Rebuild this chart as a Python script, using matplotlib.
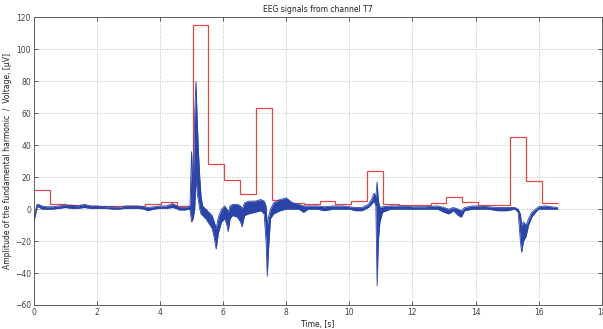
import numpy as np
import matplotlib
matplotlib.use("Agg")
import matplotlib.pyplot as plt

# Red step signal: amplitude of fundamental harmonic per window
step_end_time = 16.6
step_values = [12, 3.1, 2.3, 2.2, 2.0, 2.0, 2.2, 3.1, 4.2, 2.1,
               115, 28, 18.5, 9.4, 63, 6, 3.8, 3.5, 4.8, 3.1,
               5.2, 24, 3.5, 2.5, 2.5, 4.0, 7.7, 4.2, 2.5, 2.5,
               45, 17.5, 4.0]

# Blue EEG trace: times with lower / upper envelope
eeg_t = [0.00, 0.05, 0.10, 0.15, 0.25, 0.40, 0.60, 0.80, 1.00, 1.20, 1.40, 1.60,
         1.80, 2.00, 2.30, 2.50, 2.70, 2.90, 3.10, 3.30, 3.50, 3.60, 3.80, 4.00,
         4.20, 4.40, 4.50, 4.60, 4.80, 4.95, 5.00, 5.05, 5.10, 5.14, 5.18, 5.22,
         5.26, 5.30, 5.35, 5.45, 5.55, 5.65, 5.72, 5.78, 5.85, 5.95, 6.05, 6.12,
         6.16, 6.22, 6.30, 6.45, 6.55, 6.60, 6.68, 6.80, 7.00, 7.20, 7.30, 7.36,
         7.40, 7.44, 7.50, 7.60, 7.80, 8.00, 8.20, 8.40, 8.55, 8.70, 9.00, 9.20,
         9.50, 9.80, 10.00, 10.20, 10.40, 10.60, 10.70, 10.78, 10.84, 10.88, 10.92, 10.97,
         11.05, 11.30, 11.60, 12.00, 12.40, 12.80, 13.00, 13.15, 13.30, 13.45, 13.55, 13.65,
         13.90, 14.10, 14.40, 14.70, 15.00, 15.25, 15.35, 15.42, 15.46, 15.52, 15.60, 15.68,
         15.78, 15.90, 16.00, 16.20, 16.40, 16.60]
eeg_lo = [-8, -4, 1, 1.5, 0, 0, 0, 0.5, 1, 0.5, 0.5, 1,
          0.5, 0.5, 0.5, 0, 0, 0.5, 0.5, 0.5, 0, -1, 0, 0.5,
          0.5, 1, 0.5, -0.5, -0.5, 0, -8, -6, 0, 20, 10, 5,
          0, -3, -4, -6, -9, -12, -18, -25, -15, -8, -6, -10,
          -14, -6, -4, -5, -8, -11, -4, -3, -2, -1, -3, -20,
          -42, -25, -6, -3, -1, 0, 0, 0, -2, 0, 0, -1,
          0, 0, 0, -1, -1, 1, 3, 5, 2, -48, -20, -8,
          -2, 0, 0, 0, 0, 0, -2, -3, -1, -4, -5, -1,
          0, 0, 0, -1, -1, 0, -2, -20, -27, -20, -17, -10,
          -5, -2, 0, 0, 0, 0]
eeg_hi = [-8, -2, 3, 3, 2, 1.5, 1.5, 2, 2.5, 2.5, 2, 3,
          2, 2, 1.5, 1.5, 1, 2, 2, 2, 1.5, 1, 1.5, 2,
          2, 3.5, 2.5, 1, 1, 2, 36, 10, 60, 80, 55, 35,
          20, 8, 2, 0, -2, -4, -8, -12, -5, 0, 2, 0,
          -2, 2, 3, 3, 2, 0, 4, 5, 5, 6, 5, 2,
          -10, -5, 0, 4, 6, 7, 4, 3, 2, 2, 2, 1.5,
          2, 2, 1.5, 1, 1, 3, 6, 10, 8, 17, 5, 1,
          1.5, 2, 2, 1.5, 1.5, 2, 1, 0, 1, 0, -1, 1,
          2, 2, 1.5, 1, 1, 1, 0, -3, -10, -8, -10, -6,
          -2, 0, 1.5, 2, 1.5, 1]

title = "EEG signals from channel T7"
xlabel = "Time, [s]"
ylabel = "Amplitude of the fundamental harmonic  /  Voltage, [\u03bcV]"
xticks = list(range(0, 19, 2))
yticks = list(range(-60, 121, 20))

fig = plt.figure(figsize=(6.03, 3.29), dpi=100)
ax = fig.add_axes([0.056, 0.073, 0.942, 0.874])

blue = "#2a44a8"
ax.fill_between(eeg_t, eeg_lo, eeg_hi, color=blue, linewidth=0, zorder=3)
ax.plot(eeg_t, eeg_lo, color=blue, lw=0.6, zorder=3)
ax.plot(eeg_t, eeg_hi, color=blue, lw=0.6, zorder=3)

n = len(step_values)
edges = np.linspace(0, step_end_time, n + 1)
ax.stairs(step_values, edges, color="#d94a4a", lw=0.9, zorder=2, baseline=None)

ax.set_xlim(0, 18)
ax.set_ylim(-60, 120)
ax.set_xticks(xticks)
ax.set_yticks(yticks)
ax.grid(True, linestyle=(0, (1, 2)), color="#a8a8a8", lw=0.6)
ax.tick_params(direction="in", top=True, right=True, length=3, width=0.6,
               labelsize=5.5, colors="#404040", pad=2)
for s in ax.spines.values():
    s.set_color("#606060")
    s.set_linewidth(0.7)

ax.set_title(title, fontsize=5.5, color="#202020", pad=4)
ax.set_xlabel(xlabel, fontsize=5.5, color="#202020", labelpad=2)
ax.set_ylabel(ylabel, fontsize=5.5, color="#202020", labelpad=2)

fig.savefig("out.png", dpi=100)
